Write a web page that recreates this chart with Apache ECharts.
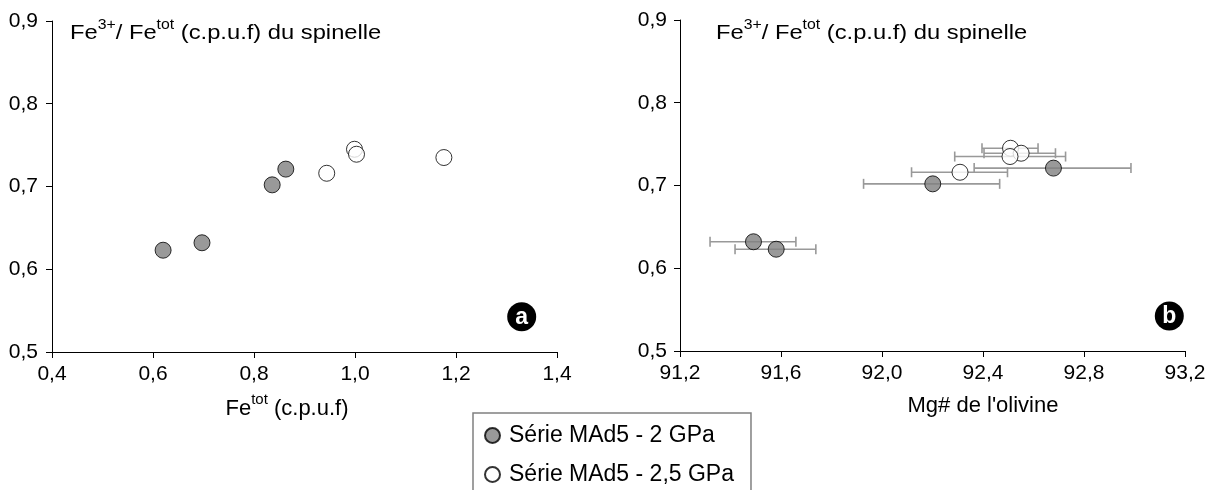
<!DOCTYPE html>
<html><head><meta charset="utf-8">
<script src="https://cdn.jsdelivr.net/npm/echarts@6/dist/echarts.min.js"></script>
<style>html,body{margin:0;padding:0;background:#fff}#c{width:1213px;height:490px}</style>
</head><body><div id="c"></div>
<script>
// ---- data ----
const seriesNames = ['Série MAd5 - 2 GPa', 'Série MAd5 - 2,5 GPa'];
// Fe3+/Fetot of spinel (shared y values)
const fe3Ratio2 = [0.623, 0.632, 0.702, 0.721];
const fe3Ratio25 = [0.716, 0.745, 0.739, 0.735];
// panel a : Fetot (c.p.u.f)
const feTot2 = [0.620, 0.697, 0.836, 0.863];
const feTot25 = [0.944, 0.999, 1.003, 1.176];
// panel b : Mg# olivine with error ranges
const mg2 = [91.581, 91.491, 92.201, 92.679];
const mg2Lo = [91.418, 91.319, 91.927, 92.365];
const mg2Hi = [91.738, 91.659, 92.466, 92.986];
const mg25 = [92.309, 92.509, 92.551, 92.507];
const mg25Lo = [92.117, 92.396, 92.404, 92.288];
const mg25Hi = [92.497, 92.618, 92.687, 92.727];
// axes
const yTicks = {min: 0.5, max: 0.9, interval: 0.1};
const xTicksA = {min: 0.4, max: 1.4, interval: 0.2};
const xTicksB = {min: 91.2, max: 93.2, interval: 0.4};

const FONT = '"Liberation Sans", Arial, Helvetica, sans-serif';
const fmt = v => v.toFixed(1).replace('.', ',');
const zip = (a, b) => a.map((v, i) => [v, b[i]]);
const errData = mg2Lo.map((v, i) => [v, mg2Hi[i], fe3Ratio2[i]])
  .concat(mg25Lo.map((v, i) => [v, mg25Hi[i], fe3Ratio25[i]]));

function axisCommon(extra, margin) {
  return Object.assign({
    type: 'value',
    axisLine: {show: true, onZero: false, lineStyle: {color: '#000', width: 1}},
    axisTick: {show: true, length: 6, lineStyle: {color: '#000', width: 1}},
    splitLine: {show: false},
    axisLabel: {formatter: fmt, color: '#000', fontSize: 21, fontFamily: FONT, margin: margin}
  }, extra);
}

const greyStyle = {color: '#808080', borderColor: '#000', borderWidth: 1};
const whiteStyle = {color: '#ffffff', borderColor: '#000', borderWidth: 1};

const richTitle = {
  m: {fontSize: 21, fontFamily: FONT, color: '#000', lineHeight: 26, verticalAlign: 'bottom'},
  s: {fontSize: 14, fontFamily: FONT, color: '#000', lineHeight: 14, verticalAlign: 'top'}
};

function titleText(x) {
  return {
    type: 'text', x: x, y: 18, scaleX: 1.13, silent: true,
    style: {x: 0, y: 0, text: '{m|Fe}{s|3+}{m|/ Fe}{s|tot}{m| (c.p.u.f) du spinelle}',
      rich: richTitle, align: 'left', verticalAlign: 'top'}
  };
}
function badge(cx, cy, letter) {
  return [
    {type: 'circle', shape: {cx: cx, cy: cy, r: 14.5}, style: {fill: '#000'}, silent: true},
    {type: 'text', x: cx, y: cy + 1, silent: true,
      style: {text: letter, fill: '#fff', font: 'bold 23px ' + FONT, align: 'center', verticalAlign: 'middle'}}
  ];
}

const chart = echarts.init(document.getElementById('c'));
chart.setOption({
  animation: false,
  backgroundColor: '#fff',
  grid: [
    {left: 52, top: 21, width: 505, height: 331},
    {left: 680, top: 20, width: 505, height: 331}
  ],
  xAxis: [
    axisCommon(Object.assign({gridIndex: 0}, xTicksA), 12),
    axisCommon(Object.assign({gridIndex: 1}, xTicksB), 12)
  ],
  yAxis: [
    axisCommon(Object.assign({gridIndex: 0}, yTicks), 14),
    axisCommon(Object.assign({gridIndex: 1}, yTicks), 13)
  ],
  legend: {
    data: seriesNames,
    orient: 'vertical', left: 473, top: 413, height: 90,
    padding: [11, 17, 20, 11], itemGap: 16,
    itemWidth: 15, itemHeight: 15, icon: 'circle',
    borderColor: '#808080', borderWidth: 1.5, borderRadius: 0,
    textStyle: {fontSize: 23, fontFamily: FONT, color: '#000', padding: [0, 0, 0, 4]},
    selectedMode: false
  },
  series: [
    {
      name: 'errorbars', type: 'custom', xAxisIndex: 1, yAxisIndex: 1, z: 1, silent: true,
      data: errData, encode: {x: [0, 1], y: 2},
      renderItem: function (params, api) {
        const y = api.value(2);
        const p1 = api.coord([api.value(0), y]);
        const p2 = api.coord([api.value(1), y]);
        const h = 5;
        const st = {stroke: '#999999', lineWidth: 1.6};
        return {type: 'group', children: [
          {type: 'line', shape: {x1: p1[0], y1: p1[1], x2: p2[0], y2: p2[1]}, style: st},
          {type: 'line', shape: {x1: p1[0], y1: p1[1] - h, x2: p1[0], y2: p1[1] + h}, style: st},
          {type: 'line', shape: {x1: p2[0], y1: p2[1] - h, x2: p2[0], y2: p2[1] + h}, style: st}
        ]};
      }
    },
    {name: seriesNames[0], type: 'scatter', xAxisIndex: 0, yAxisIndex: 0, z: 3,
      symbol: 'circle', symbolSize: 16, itemStyle: greyStyle, data: zip(feTot2, fe3Ratio2)},
    {name: seriesNames[1], type: 'scatter', xAxisIndex: 0, yAxisIndex: 0, z: 3,
      symbol: 'circle', symbolSize: 16, itemStyle: whiteStyle, data: zip(feTot25, fe3Ratio25)},
    {name: seriesNames[0], type: 'scatter', xAxisIndex: 1, yAxisIndex: 1, z: 3,
      symbol: 'circle', symbolSize: 16, itemStyle: greyStyle, data: zip(mg2, fe3Ratio2)},
    {name: seriesNames[1], type: 'scatter', xAxisIndex: 1, yAxisIndex: 1, z: 3,
      symbol: 'circle', symbolSize: 16, itemStyle: whiteStyle, data: zip(mg25, fe3Ratio25)}
  ],
  graphic: [
    titleText(70),
    titleText(716),
    {
      type: 'text', x: 287, y: 406, silent: true,
      style: {text: '{m|Fe}{s|tot}{m| (c.p.u.f)}', rich: {
        m: {fontSize: 22, fontFamily: FONT, color: '#000', lineHeight: 27, verticalAlign: 'bottom'},
        s: {fontSize: 15, fontFamily: FONT, color: '#000', lineHeight: 15, verticalAlign: 'top'}
      }, align: 'center', verticalAlign: 'middle'}
    },
    {
      type: 'text', x: 983, y: 406, silent: true,
      style: {text: "Mg# de l'olivine", font: '22px ' + FONT, fill: '#000', align: 'center', verticalAlign: 'middle'}
    }
  ].concat(badge(521.7, 316.7, 'a'), badge(1169.3, 316, 'b'))
});
</script></body></html>
